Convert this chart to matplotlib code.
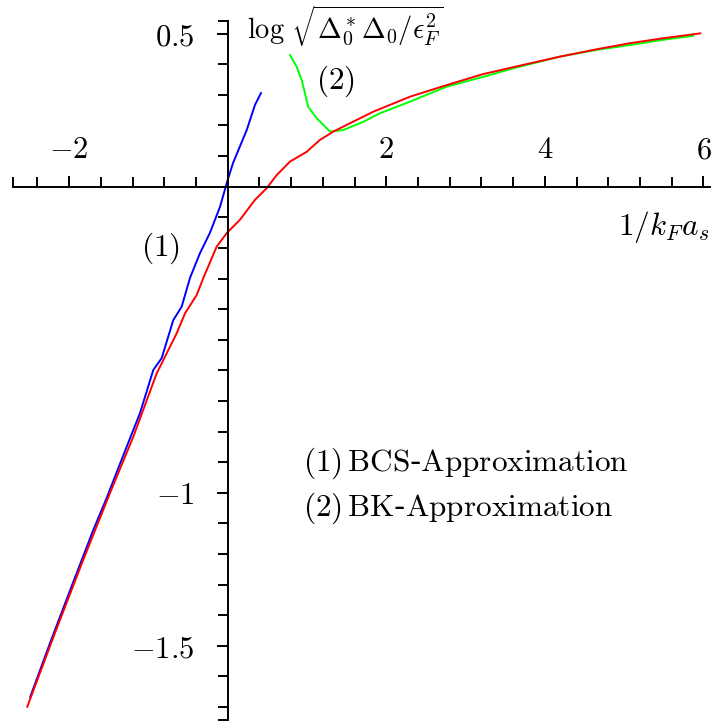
import numpy as np
import matplotlib
matplotlib.use("Agg")
import matplotlib.pyplot as plt

plt.rcParams['mathtext.fontset'] = 'cm'

# BCS approximation (1)
bcs_x = [-2.49, -2.24, -1.97, -1.695, -1.526, -1.274, -1.106, -0.938, -0.832, -0.686,
         -0.580, -0.475, -0.349, -0.224, -0.097, 0.0, 0.067, 0.240, 0.344, 0.42]
bcs_y = [-1.667, -1.491, -1.307, -1.122, -1.017, -0.850, -0.740, -0.599, -0.560, -0.436,
         -0.392, -0.298, -0.217, -0.151, -0.066, 0.022, 0.077, 0.185, 0.267, 0.306]

# full solution
full_x = [-2.527, -2.178, -1.821, -1.484, -1.190, -0.895, -0.643, -0.538, -0.391, -0.308,
          -0.139, -0.013, 0.155, 0.344, 0.492, 0.618, 0.786, 0.996, 1.164, 1.332,
          1.501, 1.836, 2.299, 2.762, 3.223, 3.812, 4.190, 4.653, 5.074, 5.493, 5.960]
full_y = [-1.699, -1.458, -1.219, -1.001, -0.817, -0.610, -0.479, -0.414, -0.354, -0.299,
          -0.196, -0.152, -0.108, -0.043, -0.005, 0.038, 0.082, 0.114, 0.153, 0.180,
          0.202, 0.245, 0.294, 0.332, 0.368, 0.403, 0.425, 0.449, 0.469, 0.485, 0.501]

# BK approximation (2)
bk_x = [0.786, 0.870, 0.933, 1.016, 1.122, 1.290, 1.458, 1.710, 1.921, 2.299,
        2.762, 3.223, 3.602, 4.190, 4.653, 5.074, 5.493, 5.871]
bk_y = [0.430, 0.392, 0.349, 0.261, 0.224, 0.180, 0.185, 0.212, 0.240, 0.278,
        0.327, 0.359, 0.387, 0.425, 0.447, 0.463, 0.480, 0.493]

xmajor = [-2, 2, 4, 6]
xminor = [-2.71, -2.4, -1.6, -1.2, -0.8, -0.4, 0.4, 0.8, 1.2, 1.6, 2.4, 2.8,
          3.2, 3.6, 4.4, 4.8, 5.2, 5.6]
ymajor = [-1.5, -1, 0.5]
yminor = [-1.743, -1.7, -1.6, -1.4, -1.3, -1.2, -1.1, -0.9, -0.8, -0.7, -0.6,
          -0.5, -0.4, -0.3, -0.2, -0.1, 0.1, 0.2, 0.3, 0.4, 0.542]

fig = plt.figure(figsize=(7.11, 7.22), dpi=100)
ax = fig.add_axes([0, 0, 1, 1])
ax.set_xlim(-2.871, 6.095)
ax.set_ylim(-1.749, 0.610)

ax.plot(bcs_x, bcs_y, color='#0000ff', lw=1.4)
ax.plot(bk_x, bk_y, color='#00ff00', lw=1.4)
ax.plot(full_x, full_y, color='#ff0000', lw=1.4)

ax.spines['bottom'].set_visible(False)
ax.spines['right'].set_visible(False)
ax.spines['top'].set_position(('data', 0))
ax.spines['left'].set_position(('data', 0))
ax.spines['top'].set_bounds(-2.71, 6.095)
ax.spines['left'].set_bounds(-1.743, 0.542)
for s in ['top', 'left']:
    ax.spines[s].set_linewidth(1.4)

ax.xaxis.tick_top()
ax.set_xticks(xmajor)
ax.set_xticklabels(['$%g$' % v for v in xmajor])
ax.set_xticks(xminor, minor=True)
ax.set_yticks(ymajor)
ax.set_yticklabels(['$%g$' % v for v in ymajor])
ax.set_yticks(yminor, minor=True)
ax.tick_params(axis='x', which='both', direction='out', width=1.4, labelsize=22, pad=8)
ax.tick_params(axis='y', which='both', direction='out', width=1.4, labelsize=22, pad=16)
ax.tick_params(which='major', length=8)
ax.tick_params(which='minor', length=7)

fs = 22.5
ax.text(0.243, 0.525, r'$\log\,\sqrt{\Delta_0^*\Delta_0/\epsilon_F^2}$', fontsize=20.5,
        ha='left', va='center')
ax.text(6.07, -0.132, r'$1/k_Fa_s$', fontsize=fs, ha='right', va='center')
ax.text(-0.845, -0.200, r'$(1)$', fontsize=fs, ha='center', va='center')
ax.text(1.353, 0.345, r'$(2)$', fontsize=fs, ha='center', va='center')
ax.text(0.953, -0.905, r'$(1)\,\mathrm{BCS}$-$\mathrm{Approximation}$', fontsize=fs,
        ha='left', va='center')
ax.text(0.953, -1.050, r'$(2)\,\mathrm{BK}$-$\mathrm{Approximation}$', fontsize=fs,
        ha='left', va='center')

fig.savefig('out.png', dpi=100)
